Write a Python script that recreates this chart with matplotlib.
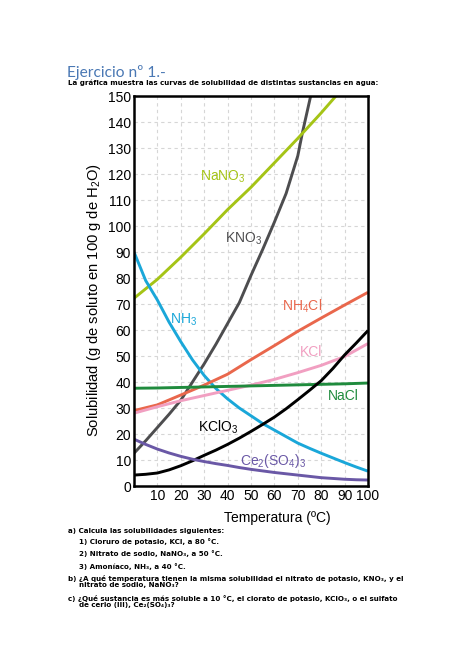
import matplotlib
matplotlib.use('Agg')
import matplotlib.pyplot as plt

plt.rcParams['font.family'] = ['Liberation Sans', 'DejaVu Sans']
plt.rcParams['mathtext.default'] = 'regular'

# temperatures (ºC) and solubilities (g / 100 g H2O)
t10 = [0, 10, 20, 30, 40, 50, 60, 70, 80, 90, 100]
t5 = [0, 5, 10, 15, 20, 25, 30, 35, 40, 45, 50, 55, 60, 65, 70, 75, 80, 85, 90, 95, 100]

kno3_t = [0, 5, 10, 15, 20, 25, 30, 35, 40, 45, 50, 55, 60, 65, 70, 72, 75.5]
kno3 = [12.6, 17.4, 22.5, 27.6, 33, 40, 47, 54.5, 62.5, 70.5, 81, 91, 101.5, 112.5, 127, 136, 150]

nano3_t = [0, 10, 20, 30, 40, 50, 60, 70, 80, 86.3]
nano3 = [72.2, 79.5, 88, 97, 106.3, 114.9, 124.3, 133.7, 143.5, 150]

nh3 = [90, 79, 71.5, 63, 55.5, 48.5, 42.5, 37.5, 33.5, 30, 27, 24, 21.5, 19, 16.5,
       14.5, 12.6, 10.8, 9, 7.3, 5.7]
nh4cl = [29, 31.2, 35, 38.8, 43, 48.6, 54, 59.5, 64.6, 69.6, 74.5]
kcl = [28, 30.5, 32.8, 34.8, 36.8, 38.8, 41, 43.6, 46.4, 49.8, 54.8]
nacl = [37.6, 37.7, 37.9, 38.1, 38.3, 38.5, 38.7, 38.9, 39.1, 39.3, 39.6]
kclo3 = [4.2, 4.5, 5, 6.2, 7.8, 9.7, 11.8, 13.8, 16, 18.4, 21, 23.7, 26.5, 29.7, 33.2,
         36.8, 40.5, 45.2, 50.4, 55, 59.8]
ce2so43 = [18, 16, 14.2, 12.7, 11.4, 10.3, 9.4, 8.6, 7.9, 7.1, 6.4, 5.8, 5.2, 4.7, 4.2,
           3.7, 3.2, 2.9, 2.6, 2.4, 2.3]

series = [
    (kno3_t, kno3, '#4d4d4f', 'KNO$_3$', (47, 95)),
    (nano3_t, nano3, '#a5c416', 'NaNO$_3$', (38, 119)),
    (t5, nh3, '#1aa7d9', 'NH$_3$', (21, 64)),
    (t10, nh4cl, '#e9674c', 'NH$_4$Cl', (72, 69)),
    (t10, kcl, '#f19fc1', 'KCl', (75.5, 51.5)),
    (t10, nacl, '#1f8b3d', 'NaCl', (89.5, 34.5)),
    (t5, kclo3, '#000000', 'KClO$_3$', (36, 22.5)),
    (t5, ce2so43, '#6a58a6', 'Ce$_2$(SO$_4$)$_3$', (59.5, 9.5)),
]

W, H = 474, 669
fig = plt.figure(figsize=(W / 100, H / 100), dpi=100)
ax = fig.add_axes([134 / W, 1 - 486 / H, (368 - 134) / W, (486 - 96) / H])

for x, y, c, name, pos in series:
    ax.plot(x, y, color=c, lw=2.1, solid_joinstyle='round', solid_capstyle='butt')
    ax.text(pos[0], pos[1], name, color=c, fontsize=10, ha='center', va='center')

ax.set_xlim(0, 100)
ax.set_ylim(0, 150)
ax.set_xticks(range(10, 101, 10))
ax.set_yticks(range(0, 151, 10))
ax.tick_params(length=0, labelsize=10, pad=2)
ax.grid(True, color='#d6d6d6', ls=(0, (3, 3)), lw=0.8)
for s in ax.spines.values():
    s.set_linewidth(1.8)
ax.set_xlabel('Temperatura (ºC)', fontsize=10)
ax.xaxis.set_label_coords((277 - 134) / (368 - 134), -25 / (486 - 96))
ax.set_ylabel('Solubilidad (g de soluto en 100 g de H$_2$O)', fontsize=10.6)
ax.yaxis.set_label_coords((103 - 134) / (368 - 134), (486 - 300) / (486 - 96))


def px(x, y):
    return x / W, 1 - y / H


fig.text(*px(67, 73), 'Ejercicio nº 1.-', fontsize=11.2, color='#4a78b4',
         family=['Lato', 'DejaVu Sans'], va='center')
fig.text(*px(68, 83), 'La gráfica muestra las curvas de solubilidad de distintas sustancias en agua:',
         fontsize=5.1, fontweight='bold', family='DejaVu Sans', va='center')

questions = [
    (68, 531, 'a) Calcula las solubilidades siguientes:'),
    (79, 542, '1) Cloruro de potasio, KCl, a 80 °C.'),
    (79, 554, '2) Nitrato de sodio, NaNO₃, a 50 °C.'),
    (79, 567, '3) Amoníaco, NH₃, a 40 °C.'),
    (68, 578, 'b) ¿A qué temperatura tienen la misma solubilidad el nitrato de potasio, KNO₃, y el'),
    (79, 585.5, 'nitrato de sodio, NaNO₃?'),
    (68, 598, 'c) ¿Qué sustancia es más soluble a 10 °C, el clorato de potasio, KClO₃, o el sulfato'),
    (79, 605.5, 'de cerio (III), Ce₂(SO₄)₃?'),
]
for x, y, s in questions:
    fig.text(*px(x, y), s, fontsize=5.1, fontweight='bold', family='DejaVu Sans', va='center')

fig.savefig('out.png', dpi=100)
